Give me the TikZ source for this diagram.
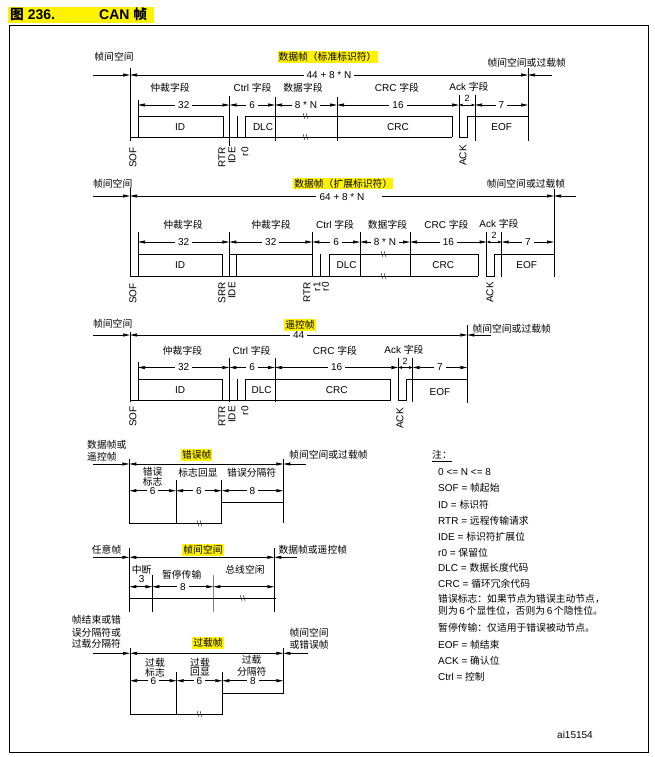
\documentclass[tikz,border=0pt]{standalone}
\usepackage{fontspec}
\setmainfont{Liberation Sans}
\newfontfamily\cjk{Noto Sans CJK SC}[Scale=0.98]
\usetikzlibrary{arrows.meta}
\newcommand\zh[1]{{\cjk #1}}
\definecolor{hlyellow}{HTML}{FFF200}
\tikzset{
  t/.style={font=\fontsize{10}{11}\selectfont, inner sep=0pt},
  ts/.style={font=\fontsize{9}{10}\selectfont, inner sep=0pt},
  hl/.style={t, fill=hlyellow, inner xsep=1pt, inner ysep=1pt},
  rl/.style={t, rotate=90, anchor=east},
  ln/.style={line width=0.7pt},
  ar/.style={ln, -{Triangle[length=7pt,width=3pt]}},
  dar/.style={ln, {Triangle[length=7pt,width=3pt]}-{Triangle[length=7pt,width=3pt]}},
  sdar/.style={ln, {Triangle[length=3.5pt,width=2.5pt]}-{Triangle[length=3.5pt,width=2.5pt]}},
  lb/.style={t, fill=white, inner xsep=3pt, inner ysep=1pt},
  brk/.style={line width=0.4pt},
}
\newcommand\brkmark[2]{\draw[brk] (#1-3,#2-3) -- (#1-1,#2+3); \draw[brk] (#1,#2-3) -- (#1+2,#2+3);}
\begin{document}
\begin{tikzpicture}[x=1pt,y=-1pt]
\useasboundingbox (0,0) rectangle (655,757);
% ---------- title and frame
\fill[hlyellow] (8.3,6.7) rectangle (154,22.7);
\node[anchor=base west, inner sep=0pt, font=\fontsize{14}{16}\selectfont\bfseries] (ttl) at (10,20) {{\cjk 图} 236.};
\node[anchor=base west, inner sep=0pt, font=\fontsize{14}{16}\selectfont\bfseries] (ttl2) at (99,20) {CAN {\cjk 帧}};
\draw[line width=0.8pt] (9,25) rectangle (648,752);

% ================= Panel 1: standard data frame
\node[t] (p1a) at (114,57) {\zh{帧间空间}};
\node[hl] (p1b) at (327.5,57) {\zh{数据帧（标准标识符）}};
\node[t] (p1c) at (526.7,62.7) {\zh{帧间空间或过载帧}};
\draw[ar] (93,75) -- (130,75);
\draw[dar] (130,75) -- node[lb] (p1d) {44 + 8 * N} (528,75);
\draw[ar] (552,75) -- (528,75);
\draw[ln] (130,68) -- (130,141);
\draw[ln] (528,68) -- (528,141);
\node[t] (p1e) at (170,87.5) {\zh{仲裁字段}};
\node[t] (p1f) at (252.5,87.5) {Ctrl \zh{字段}};
\node[t] (p1g) at (303,87.5) {\zh{数据字段}};
\node[t] (p1h) at (397,87.5) {CRC \zh{字段}};
\node[t] (p1i) at (469,87) {Ack \zh{字段}};
\draw[dar] (138,105) -- node[lb]{32} (229.5,105);
\draw[dar] (229.5,105) -- node[lb]{6} (275,105);
\draw[dar] (275,105) -- node[lb]{8 * N} (337,105);
\draw[dar] (337,105) -- node[lb]{16} (459,105);
\draw[sdar] (459,105) -- (475,105);
\node[ts] (p1j) at (467,98.5) {2};
\draw[dar] (475,105) -- node[lb]{7} (528,105);
% signal
\draw[ln] (130,137) -- (452,137);
\draw[ln] (138,100) -- (138,137);
\draw[ln] (138,116) -- (223,116) -- (223,137);
\draw[ln] (229.5,96) -- (229.5,146);
\draw[ln] (237,116) -- (237,137);
\draw[ln] (245.5,137) -- (245.5,116) -- (452,116) -- (452,137);
\draw[ln] (275,97) -- (275,141);
\draw[ln] (337,97) -- (337,141);
\draw[ln] (459,95) -- (459,137) -- (467,137) -- (467,116) -- (528,116);
\draw[ln] (475,95) -- (475,141);
\brkmark{306}{116}
\brkmark{306}{137}
\node[t] (p1k) at (180,126.7) {ID};
\node[t] (p1l) at (263,126.7) {DLC};
\node[t] (p1m) at (398,126.7) {CRC};
\node[t] (p1n) at (501.7,126.7) {EOF};
\node[rl] (p1o) at (133,147) {SOF};
\node[rl] (p1p) at (222,147) {RTR};
\node[rl] (p1q) at (232,147) {IDE};
\node[rl] (p1r) at (245,147) {r0};
\node[rl] (p1s) at (463,145) {ACK};

% ================= Panel 2: extended data frame
\node[t] (p2a) at (112.7,183.3) {\zh{帧间空间}};
\node[hl] (p2b) at (343.3,183.3) {\zh{数据帧（扩展标识符）}};
\node[t] (p2c) at (526,183.3) {\zh{帧间空间或过载帧}};
\draw[ar] (93,196) -- (130,196);
\draw[ar] (316,196) -- (130,196);
\draw[ar] (382,196) -- (554,196);
\node[t] (p2d) at (342,197) {64 + 8 * N};
\draw[ar] (576,196) -- (554,196);
\draw[ln] (130,188) -- (130,277);
\draw[ln] (554,189) -- (554,277);
\node[t] (p2e) at (183,224.5) {\zh{仲裁字段}};
\node[t] (p2f) at (271,224.5) {\zh{仲裁字段}};
\node[t] (p2g) at (335,224.5) {Ctrl \zh{字段}};
\node[t] (p2h) at (387.5,224.5) {\zh{数据字段}};
\node[t] (p2i) at (446.5,224.5) {CRC \zh{字段}};
\node[t] (p2j) at (499,224) {Ack \zh{字段}};
\draw[dar] (138,242) -- node[lb]{32} (229.3,242);
\draw[dar] (229.3,242) -- node[lb]{32} (312.3,242);
\draw[dar] (312.3,242) -- node[lb]{6} (360,242);
\draw[dar] (360,242) -- node[lb]{8 * N} (410,242);
\draw[dar] (410,242) -- node[lb]{16} (486.7,242);
\draw[sdar] (486.7,242) -- (501.7,242);
\node[ts] (p2k) at (494,235.5) {2};
\draw[dar] (501.7,242) -- node[lb]{7} (554,242);
% signal
\draw[ln] (130,276) -- (478.3,276);
\draw[ln] (138,232) -- (138,276);
\draw[ln] (138,254) -- (222.7,254) -- (222.7,276);
\draw[ln] (229.3,232) -- (229.3,277);
\draw[ln] (229.3,254) -- (312.3,254);
\draw[ln] (236,254) -- (236,276);
\draw[ln] (312.3,232) -- (312.3,277);
\draw[ln] (320.7,254) -- (320.7,276);
\draw[ln] (329.3,276) -- (329.3,254) -- (478.3,254) -- (478.3,276);
\draw[ln] (360,232) -- (360,277);
\draw[ln] (410,232) -- (410,277);
\draw[ln] (486.7,232) -- (486.7,276) -- (494,276) -- (494,254) -- (554,254);
\draw[ln] (501.7,232) -- (501.7,277);
\brkmark{384}{254}
\brkmark{384}{276}
\node[t] (p2l) at (180,265) {ID};
\node[t] (p2m) at (346.7,265) {DLC};
\node[t] (p2n) at (443.3,265) {CRC};
\node[t] (p2o) at (526.7,265) {EOF};
\node[rl] (p2p) at (133,283) {SOF};
\node[rl] (p2q) at (222,282) {SRR};
\node[rl] (p2r) at (232,282) {IDE};
\node[rl] (p2s) at (307,282) {RTR};
\node[rl] (p2t) at (317,282) {r1};
\node[rl] (p2u) at (325.5,282) {r0};
\node[rl] (p2v) at (490,282) {ACK};

% ================= Panel 3: remote frame
\node[t] (p3a) at (112.7,324) {\zh{帧间空间}};
\node[hl] (p3b) at (300,325) {\zh{遥控帧}};
\node[t] (p3c) at (511.7,328.3) {\zh{帧间空间或过载帧}};
\draw[ar] (93,335) -- (130,335);
\draw[dar] (130,335) -- node[lb] (p3d) {44} (467.3,335);
\draw[ar] (491,335) -- (467.3,335);
\draw[ln] (130,332) -- (130,402);
\draw[ln] (467.3,325) -- (467.3,403);
\node[t] (p3e) at (182.5,350.7) {\zh{仲裁字段}};
\node[t] (p3f) at (251.5,350.7) {Ctrl \zh{字段}};
\node[t] (p3g) at (335,350.7) {CRC \zh{字段}};
\node[t] (p3h) at (404,350.2) {Ack \zh{字段}};
\draw[dar] (138,367.5) -- node[lb]{32} (229.3,367.5);
\draw[dar] (229.3,367.5) -- node[lb]{6} (275,367.5);
\draw[dar] (275,367.5) -- node[lb]{16} (398.3,367.5);
\draw[sdar] (398.3,367.5) -- (412.7,367.5);
\node[ts] (p3i) at (405,361) {2};
\draw[dar] (412.7,367.5) -- node[lb]{7} (467.3,367.5);
% signal
\draw[ln] (130,400.7) -- (390.7,400.7);
\draw[ln] (138,362) -- (138,400.7);
\draw[ln] (138,379.3) -- (222.7,379.3) -- (222.7,400.7);
\draw[ln] (229.3,358) -- (229.3,402);
\draw[ln] (237.3,379.3) -- (237.3,400.7);
\draw[ln] (245.7,400.7) -- (245.7,379.3) -- (390.7,379.3) -- (390.7,400.7);
\draw[ln] (275,358) -- (275,402);
\draw[ln] (398.3,358) -- (398.3,400.7) -- (406,400.7) -- (406,379.3) -- (467.3,379.3);
\draw[ln] (412.7,358) -- (412.7,402);
\node[t] (p3j) at (180,390) {ID};
\node[t] (p3k) at (261.7,390) {DLC};
\node[t] (p3l) at (336.7,390) {CRC};
\node[t] (p3m) at (440,391.7) {EOF};
\node[rl] (p3n) at (133,406) {SOF};
\node[rl] (p3o) at (222,406) {RTR};
\node[rl] (p3p) at (232,406) {IDE};
\node[rl] (p3q) at (245,406) {r0};
\node[rl] (p3r) at (400,408) {ACK};

% ================= Panel 4: error frame
\node[t, anchor=west] (p4a) at (87,445) {\zh{数据帧或}};
\node[t, anchor=west] (p4b) at (87,456.7) {\zh{遥控帧}};
\node[hl] (p4c) at (196.7,455) {\zh{错误帧}};
\node[t, anchor=west] (p4d) at (289,455) {\zh{帧间空间或过载帧}};
\draw[ar] (93,464) -- (129.3,464);
\draw[dar] (129.3,464) -- (283.3,464);
\draw[ar] (306,464) -- (283.3,464);
\draw[ln] (129.3,459) -- (129.3,523.3) -- (221.7,523.3) -- (221.7,480);
\draw[ln] (283.3,459) -- (283.3,523.3);
\draw[ln] (176,480) -- (176,523.3);
\draw[ln] (221.7,502) -- (283.3,502);
\brkmark{200}{523.3}
\node[t] (p4e) at (152.7,471.7) {\zh{错误}};
\node[t] (p4f) at (152.7,481.7) {\zh{标志}};
\node[t] (p4g) at (198,472.7) {\zh{标志回显}};
\node[t] (p4h) at (251.7,472.7) {\zh{错误分隔符}};
\draw[dar] (129.3,490.7) -- node[lb]{6} (176,490.7);
\draw[dar] (176,490.7) -- node[lb]{6} (221.7,490.7);
\draw[dar] (221.7,490.7) -- node[lb]{8} (283.3,490.7);

% ================= Panel 5: interframe space
\node[t, anchor=west] (p5a) at (91.7,550) {\zh{任意帧}};
\node[hl] (p5b) at (203,550) {\zh{帧间空间}};
\node[t, anchor=west] (p5c) at (278.3,550) {\zh{数据帧或遥控帧}};
\draw[ar] (93,557.3) -- (129.3,557.3);
\draw[dar] (129.3,557.3) -- (274.3,557.3);
\draw[ar] (297,557.3) -- (274.3,557.3);
\draw[ln] (129.3,548) -- (129.3,611.7);
\draw[ln] (274.3,548) -- (274.3,611.7);
\draw[ln] (152.3,575) -- (152.3,611.7);
\draw[ln, gray] (213.3,575) -- (213.3,611.7);
\draw[ln] (129.3,598.3) -- (276,598.3);
\brkmark{243.3}{598.3}
\node[t] (p5d) at (141.7,569.3) {\zh{中断}};
\node[t] (p5e) at (141.7,579.3) {3};
\node[t] (p5f) at (181.7,575) {\zh{暂停传输}};
\node[t] (p5g) at (245,569.3) {\zh{总线空闲}};
\draw[dar] (129.3,586.7) -- (152.3,586.7);
\draw[dar] (152.3,586.7) -- node[lb]{8} (213.3,586.7);
\draw[dar] (213.3,586.7) -- (274.3,586.7);

% ================= Panel 6: overload frame
\node[t, anchor=west] (p6a) at (71.7,620) {\zh{帧结束或错}};
\node[t, anchor=west] (p6b) at (71.7,632.3) {\zh{误分隔符或}};
\node[t, anchor=west] (p6c) at (71.7,644) {\zh{过载分隔符}};
\node[hl] (p6d) at (208,643) {\zh{过载帧}};
\node[t, anchor=west] (p6e) at (289.3,633) {\zh{帧间空间}};
\node[t, anchor=west] (p6f) at (289.3,645) {\zh{或错误帧}};
\draw[ar] (93,653.3) -- (130,653.3);
\draw[dar] (130,653.3) -- (283.3,653.3);
\draw[ar] (308,653.3) -- (283.3,653.3);
\draw[ln] (130,648.3) -- (130,714) -- (222.3,714) -- (222.3,671.7);
\draw[ln] (283.3,648.3) -- (283.3,693.3) -- (222.3,693.3);
\draw[ln] (176.7,671.7) -- (176.7,714);
\brkmark{200}{714}
\node[t] (p6g) at (155,662.3) {\zh{过载}};
\node[t] (p6h) at (155,672.3) {\zh{标志}};
\node[t] (p6i) at (200,662.3) {\zh{过载}};
\node[t] (p6j) at (200,672.3) {\zh{回显}};
\node[t] (p6k) at (251.7,660) {\zh{过载}};
\node[t] (p6l) at (251.7,671.3) {\zh{分隔符}};
\draw[dar] (130,680.7) -- node[lb]{6} (176.7,680.7);
\draw[dar] (176.7,680.7) -- node[lb]{6} (222.3,680.7);
\draw[dar] (222.3,680.7) -- node[lb]{8} (283.3,680.7);

% ================= Notes
\node[t, anchor=west] (n0) at (432,455) {\zh{注：}};
\draw[line width=0.4pt] (432,461) -- (452,461);
\node[t, anchor=west] (n1) at (438,472.3) {0 <= N <= 8};
\node[t, anchor=west] (n2) at (438,488.3) {SOF = \zh{帧起始}};
\node[t, anchor=west] (n3) at (438,504.3) {ID = \zh{标识符}};
\node[t, anchor=west] (n4) at (438,520.7) {RTR = \zh{远程传输请求}};
\node[t, anchor=west] (n5) at (438,536.7) {IDE = \zh{标识符扩展位}};
\node[t, anchor=west] (n6) at (438,552.3) {r0 = \zh{保留位}};
\node[t, anchor=west] (n7) at (438,567.7) {DLC = \zh{数据长度代码}};
\node[t, anchor=west] (n8) at (438,584) {CRC = \zh{循环冗余代码}};
\node[t, anchor=west] (n9) at (438,599.3) {\zh{错误标志：如果节点为错误主动节点，}};
\node[t, anchor=west] (n10) at (438,611) {\zh{则为}\,6\,\zh{个显性位，否则为}\,6\,\zh{个隐性位。}};
\node[t, anchor=west] (n11) at (438,627.7) {\zh{暂停传输：仅适用于错误被动节点。}};
\node[t, anchor=west] (n12) at (438,644.3) {EOF = \zh{帧结束}};
\node[t, anchor=west] (n13) at (438,660.7) {ACK = \zh{确认位}};
\node[t, anchor=west] (n14) at (438,676.7) {Ctrl = \zh{控制}};
\node[t] (n15) at (575,735) {ai15154};
\end{tikzpicture}
\end{document}
